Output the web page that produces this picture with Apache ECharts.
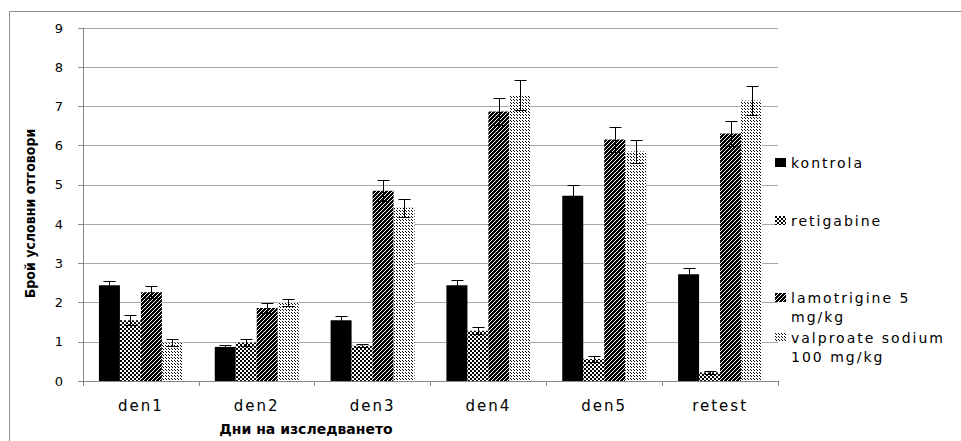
<!DOCTYPE html>
<html>
<head>
<meta charset="utf-8">
<script src="https://cdn.jsdelivr.net/npm/echarts@6/dist/echarts.min.js"></script>
<style>
  html, body { margin: 0; padding: 0; background: #fff; }
  #chart { width: 961px; height: 441px; }
  #chart text { letter-spacing: 2px; }
  #chart text[style*="bold"] { letter-spacing: 0px; }
</style>
</head>
<body>
<div id="chart"></div>
<script>
// Days of the study
const categories = ['den1', 'den2', 'den3', 'den4', 'den5', 'retest'];
const yTicks = [0, 1, 2, 3, 4, 5, 6, 7, 8, 9];

// Mean number of conditioned responses per group
const kontrola    = [2.44, 0.87, 1.55, 2.44, 4.72, 2.72];
const retigabine  = [1.55, 0.98, 0.90, 1.28, 0.56, 0.22];
const lamotrigine = [2.26, 1.86, 4.85, 6.87, 6.16, 6.31];
const valproate   = [0.98, 2.00, 4.42, 7.29, 5.85, 7.15];

// Error bar half-lengths
const kontrolaErr    = [0.11, 0.05, 0.11, 0.13, 0.27, 0.15];
const retigabineErr  = [0.13, 0.08, 0.04, 0.09, 0.07, 0.03];
const lamotrigineErr = [0.15, 0.12, 0.27, 0.35, 0.31, 0.33];
const valproateErr   = [0.08, 0.10, 0.23, 0.39, 0.30, 0.38];

const names = ['kontrola', 'retigabine', 'lamotrigine 5\nmg/kg', 'valproate sodium\n100 mg/kg'];

// Fill patterns (black and white, print style)
function makeTile(size, painter) {
  const c = document.createElement('canvas');
  c.width = size; c.height = size;
  const ctx = c.getContext('2d');
  ctx.fillStyle = '#fff';
  ctx.fillRect(0, 0, size, size);
  ctx.fillStyle = '#000';
  painter(ctx);
  return { image: c, repeat: 'repeat' };
}
const checkerFill = makeTile(4, ctx => { ctx.fillRect(0, 0, 2, 2); ctx.fillRect(2, 2, 2, 2); });
const diagonalFill = makeTile(4, ctx => {
  ctx.fillRect(0, 0, 4, 4);
  ctx.fillStyle = '#fff';
  for (let i = 0; i < 4; i++) ctx.fillRect(i, 3 - i, 1, 1);
});
const dotFill = makeTile(3, ctx => { ctx.fillRect(0, 0, 1, 1); ctx.fillRect(1, 1, 1, 1); });
const fills = ['#000', checkerFill, diagonalFill, dotFill];

const values = [kontrola, retigabine, lamotrigine, valproate];
const errors = [kontrolaErr, retigabineErr, lamotrigineErr, valproateErr];

const GAP = 0.275;
const N = values.length;

function errorBarRenderer(k) {
  return function (params, api) {
    const ci = api.value(0), v = api.value(1), e = api.value(2);
    const band = api.size([1, 0])[0];
    const barW = band * (1 - GAP) / N;
    const cx = Math.round(api.coord([ci, v])[0] + (k - (N - 1) / 2) * barW) + 0.5;
    const yTop = Math.round(api.coord([ci, v + e])[1]) + 0.5;
    const yBot = Math.round(api.coord([ci, v - e])[1]) + 0.5;
    const hw = 6;
    const st = { stroke: '#000', lineWidth: 1 };
    return {
      type: 'group',
      children: [
        { type: 'line', shape: { x1: cx, y1: yTop, x2: cx, y2: yBot }, style: st },
        { type: 'line', shape: { x1: cx - hw, y1: yTop, x2: cx + hw, y2: yTop }, style: st },
        { type: 'line', shape: { x1: cx - hw, y1: yBot, x2: cx + hw, y2: yBot }, style: st }
      ]
    };
  };
}

const barSeries = values.map((vals, k) => ({
  name: names[k],
  type: 'bar',
  data: vals,
  barGap: '0%',
  barCategoryGap: (GAP * 100) + '%',
  itemStyle: { color: fills[k] },
  animation: false
}));

const errSeries = values.map((vals, k) => ({
  name: names[k] + ' err',
  type: 'custom',
  renderItem: errorBarRenderer(k),
  data: vals.map((v, i) => [i, v, errors[k][i]]),
  encode: { x: 0, y: 1 },
  z: 5,
  silent: true,
  animation: false
}));

// Legend icons: two-line entries keep the swatch beside the first line
const squareIcon = 'path://M0,0H11V9H0Z';
const topSquareIcon = 'path://M0,0H11V9H0Z M0,27.9H0.05V28H0Z';
const legendTops = [148, 206, 283, 323];
const legends = names.map((n, k) => ({
  data: [n],
  orient: 'vertical',
  left: 770,
  top: legendTops[k],
  icon: k < 2 ? squareIcon : topSquareIcon,
  itemWidth: 11,
  itemHeight: k < 2 ? 9 : 28,
  itemGap: 5,
  selectedMode: false,
  textStyle: { fontFamily: 'DejaVu Sans', fontSize: 14, color: '#000', lineHeight: 19 }
}));

const chart = echarts.init(document.getElementById('chart'), null, { renderer: 'svg' });
chart.setOption({
  backgroundColor: '#fff',
  animation: false,
  grid: { left: 83, right: 183, top: 28, bottom: 59 },
  legend: legends,
  xAxis: {
    type: 'category',
    data: categories,
    name: 'Дни на изследването',
    nameLocation: 'middle',
    nameGap: 41,
    nameTextStyle: {
      fontFamily: 'DejaVu Sans', fontWeight: 'bold', fontSize: 14, color: '#000',
      padding: [0, 249, 0, 0]
    },
    axisLine: { lineStyle: { color: '#868686', width: 1 } },
    axisTick: { show: true, length: 5, lineStyle: { color: '#868686' } },
    axisLabel: { fontFamily: 'DejaVu Sans', fontSize: 15, color: '#000', margin: 17 }
  },
  yAxis: {
    type: 'value',
    min: yTicks[0],
    max: yTicks[yTicks.length - 1],
    interval: 1,
    name: 'Брой условни отговори',
    nameLocation: 'middle',
    nameRotate: 90,
    nameGap: 46,
    nameTextStyle: {
      fontFamily: '"Liberation Sans Narrow", "DejaVu Sans Condensed", "Liberation Sans"',
      fontWeight: 'bold', fontSize: 14, color: '#000',
      padding: [0, 18, 0, 0]
    },
    axisLine: { show: true, lineStyle: { color: '#868686', width: 1 } },
    axisTick: { show: true, length: 5, lineStyle: { color: '#868686' } },
    axisLabel: { fontFamily: 'DejaVu Sans', fontSize: 13, color: '#000', margin: 18 },
    splitLine: { lineStyle: { color: '#a8a8a8', width: 1 } }
  },
  graphic: [{
    type: 'rect',
    shape: { x: 9.5, y: 11.5, width: 1000, height: 500 },
    style: { fill: 'none', stroke: '#8c8c8c', lineWidth: 1 },
    silent: true,
    z: -10
  }],
  series: barSeries.concat(errSeries)
});
</script>
</body>
</html>
